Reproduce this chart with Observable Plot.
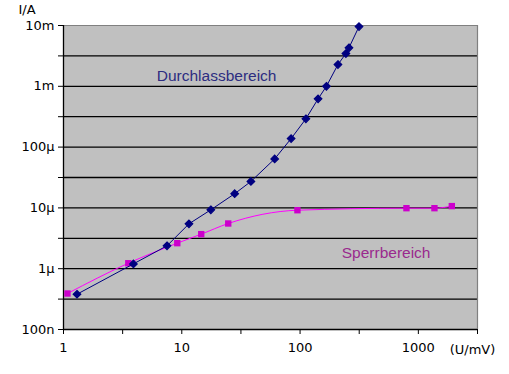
<!DOCTYPE html>
<html>
<head>
<meta charset="utf-8">
<script src="https://cdn.jsdelivr.net/npm/d3@7"></script>
<script src="https://cdn.jsdelivr.net/npm/@observablehq/plot@0.6"></script>
<style>
  html, body { margin: 0; padding: 0; background: #fff; }
  #chart { position: relative; width: 509px; height: 374px; }
</style>
</head>
<body>
<div id="chart"></div>
<script>
// Data (U in mV, I in A)
const durchlassU = [1.3, 3.9, 7.5, 11.5, 17.6, 28, 38.4, 61, 84, 112, 142, 167, 209, 244, 259, 315];
const durchlassI = [3.8e-7, 1.2e-6, 2.38e-6, 5.47e-6, 9.3e-6, 1.71e-5, 2.72e-5, 6.4e-5, 1.38e-4, 2.92e-4, 6.22e-4, 1.0e-3, 2.28e-3, 3.46e-3, 4.3e-3, 9.6e-3];
const sperrU = [1.08, 3.53, 9.16, 14.6, 24.7, 95, 793, 1368, 1918];
const sperrI = [3.91e-7, 1.23e-6, 2.63e-6, 3.7e-6, 5.54e-6, 9.16e-6, 9.89e-6, 9.89e-6, 1.07e-5];

const xTickValues = [1, 10, 100, 1000];
const xTickLabels = ["1", "10", "100", "1000"];
const yTickValues = [1e-7, 1e-6, 1e-5, 1e-4, 1e-3, 1e-2];
const yTickLabels = ["100n", "1µ", "10µ", "100µ", "1m", "10m"];
const xUnit = "(U/mV)";
const yUnit = "I/A";
const seriesNames = ["Durchlassbereich", "Sperrbereich"];

const xDomain = [1, Math.pow(10, 3.5)];
const yDomain = [1e-7, 1e-2];
const halfX = d3.range(0, 8).map(k => Math.pow(10, k / 2));
const halfY = d3.range(0, 11).map(k => Math.pow(10, -7 + k / 2));

const durchlass = durchlassU.map((u, i) => ({u, i: durchlassI[i]}));
const sperr = sperrU.map((u, i) => ({u, i: sperrI[i]}));

const xLab = new Map(xTickValues.map((v, i) => [v, xTickLabels[i]]));
const yLab = new Map(yTickValues.map((v, i) => [v, yTickLabels[i]]));
const near = (m, v) => { for (const [k, s] of m) if (Math.abs(Math.log10(k) - Math.log10(v)) < 1e-6) return s; return ""; };

const font = "Liberation Sans, Arial, sans-serif";
const axisFont = "DejaVu Sans, sans-serif";

const plot = Plot.plot({
  width: 509,
  height: 374,
  marginLeft: 63,
  marginRight: 32,
  marginTop: 25,
  marginBottom: 45,
  style: {fontFamily: axisFont, fontSize: "13px", background: "white", color: "#000", overflow: "visible"},
  x: {type: "log", domain: xDomain, range: [63, 477]},
  y: {type: "log", domain: yDomain, range: [329, 25]},
  marks: [
    Plot.frame({fill: "#c0c0c0", stroke: null}),
    Plot.ruleY(halfY.slice(1, -1), {stroke: "#000", strokeWidth: 1.3}),
    Plot.ruleY([yDomain[1]], {stroke: "#808080", strokeWidth: 1.2}),
    Plot.ruleX([xDomain[1]], {stroke: "#808080", strokeWidth: 1.2}),
    Plot.ruleX([xDomain[0]], {stroke: "#000", strokeWidth: 1.3}),
    Plot.ruleY([yDomain[0]], {stroke: "#000", strokeWidth: 1.3}),
    Plot.axisX({ticks: halfX, tickSize: 5, tickPadding: 8, tickFormat: v => near(xLab, v), label: null, fontSize: 13, fontFamily: axisFont}),
    Plot.axisY({ticks: halfY, tickSize: 5, tickPadding: 4, tickFormat: v => near(yLab, v), label: null, fontSize: 13, fontFamily: axisFont}),
    Plot.line(sperr, {x: "u", y: "i", stroke: "#ff00ff", strokeWidth: 1, curve: "monotone-x"}),
    Plot.dot(sperr, {x: "u", y: "i", symbol: "square", r: 3.6, fill: "#cc00cc", stroke: null}),
    Plot.line(durchlass, {x: "u", y: "i", stroke: "#000080", strokeWidth: 1}),
    Plot.dot(durchlass, {x: "u", y: "i", symbol: "diamond2", r: 3.4, fill: "#000080", stroke: "#000080", strokeWidth: 1.2}),
    Plot.text([seriesNames[0]], {x: 19.7, y: 1.45e-3, text: d => d, fill: "#2d2d80", fontSize: 15.5, fontFamily: font}),
    Plot.text([seriesNames[1]], {x: 534, y: 1.8e-6, text: d => d, fill: "#9a2a8e", fontSize: 15.5, fontFamily: font}),
    Plot.text([xUnit], {x: xDomain[1], y: yDomain[0], text: d => d, dy: 20, dx: -5, fontSize: 13, fontFamily: axisFont, fill: "#000"}),
    Plot.text([yUnit], {x: xDomain[0], y: yDomain[1], text: d => d, dy: -16, dx: -45, textAnchor: "start", fontSize: 13, fontFamily: axisFont, fill: "#000"})
  ]
});
document.getElementById("chart").appendChild(plot);
</script>
</body>
</html>
